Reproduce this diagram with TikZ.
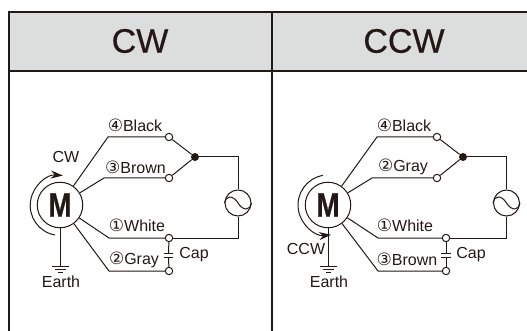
\documentclass[tikz,border=0pt]{standalone}
\usepackage{fontspec}
\setmainfont{Liberation Sans}
\newfontfamily\circfont{DejaVu Sans}
\newfontfamily\heavyfont[FakeBold=0.5]{Liberation Sans}
\newfontfamily\motorfont[FakeBold=0.6]{Liberation Sans Bold}
\usetikzlibrary{arrows.meta}
\definecolor{ink}{HTML}{231815}
\definecolor{head}{HTML}{DCDDDD}
\newcommand{\circnum}[1]{{\circfont\fontsize{17}{17}\selectfont #1}}
\tikzset{
  wire/.style={draw=ink,line width=1pt,line join=miter},
  rule/.style={draw=ink,line width=2pt},
  term/.style={circle,draw=ink,fill=white,line width=1pt,minimum size=7.4pt,inner sep=0pt},
  junction/.style={circle,fill=ink,minimum size=8pt,inner sep=0pt},
  motor/.style={circle,draw=ink,fill=white,line width=1pt,minimum size=45.5pt,inner sep=0pt,font=\motorfont\fontsize{34}{34}\selectfont,text=ink},
  source/.style={circle,draw=ink,fill=white,line width=1pt,minimum size=26pt,inner sep=0pt},
  lab/.style={text=ink,font=\fontsize{16}{16}\selectfont,inner sep=0pt},
  title/.style={text=ink,font=\heavyfont\fontsize{34}{34}\selectfont,inner sep=0pt},
  plate/.style={draw=ink,line width=1pt},
}
\begin{document}
\begin{tikzpicture}[x=1pt,y=-1pt]
\useasboundingbox (0,0) rectangle (527,331);
\fill[head] (8.7,12.5) rectangle (527,71.5);
\draw[rule] (527,12.5) -- (8.7,12.5) -- (8.7,331);
\draw[rule] (8.7,71.5) -- (527,71.5);
\draw[rule] (272,12.5) -- (272,331);
\node[title] (tcw) at (140,41) {CW};
\node[title] (tccw) at (404,41) {CCW};
% ---------- CW
\node[motor] (m1) at (60,205) {\scalebox{0.82}[1]{M}};
\node[term] (a1) at (169,137) {};
\node[term] (b1) at (169,178) {};
\node[term] (c1) at (169,238) {};
\node[term] (d1) at (169,271) {};
\node[junction] (j1) at (195,157) {};
\node[source] (s1) at (238,203) {};
\coordinate (p1) at (108,137);
\coordinate (q1) at (104,178);
\coordinate (r1) at (109,238);
\coordinate (t1) at (109,271);
\coordinate (u1) at (238,157);
\coordinate (v1) at (238,238);
\coordinate (g1) at (60,266);
\coordinate (x1) at (168.5,253.5);
\coordinate (y1) at (168.5,257.5);
\draw[wire] (m1) -- (p1) -- (a1);
\draw[wire] (m1) -- (q1) -- (b1);
\draw[wire] (m1) -- (r1) -- (c1);
\draw[wire] (m1) -- (t1) -- (d1);
\draw[wire] (a1) -- (j1);
\draw[wire] (b1) -- (j1);
\draw[wire] (j1) -- (u1) -- (s1);
\draw[wire] (s1) -- (v1) -- (c1);
\draw[wire] (m1) -- (g1);
\draw[wire] (c1) -- (x1);
\draw[wire] (d1) -- (y1);
\draw[plate] (163.5,253.5) -- (173,253.5);
\draw[plate] (163.5,257.5) -- (173,257.5);
\draw[plate] (52,266) -- (69,266);
\draw[plate] (55,269.3) -- (66,269.3);
\draw[plate] (58,272.5) -- (63,272.5);
\draw[wire,-{Stealth[length=12pt,width=8pt]}] (55,235) arc[start angle=260,end angle=85,x radius=30,y radius=-30];
\draw[wire] (s1.west) .. controls +(1.5,-8) and +(-5,-8) .. (s1.center) .. controls +(5,8) and +(-1.5,8) .. (s1.east);
\node[lab] (l1) at (135,125) {\circnum{④}Black};
\node[lab] (l2) at (135.5,167) {\circnum{③}Brown};
\node[lab] (l3) at (137,225.5) {\circnum{①}White};
\node[lab] (l4) at (134,259.5) {\circnum{②}Gray};
\node[lab] (cap1) at (194,255) {Cap};
\node[lab] (cwl) at (66,157) {CW};
\node[lab] (e1) at (61,282) {Earth};
% ---------- CCW
\node[motor] (m2) at (328,205) {\scalebox{0.82}[1]{M}};
\node[term] (a2) at (437,137) {};
\node[term] (b2) at (437,178) {};
\node[term] (c2) at (446,238) {};
\node[term] (d2) at (446,271) {};
\node[junction] (j2) at (463,157) {};
\node[source] (s2) at (506.5,203) {};
\coordinate (p2) at (377,137);
\coordinate (q2) at (372,178);
\coordinate (r2) at (378,238);
\coordinate (t2) at (378,271);
\coordinate (u2) at (506.5,157);
\coordinate (v2) at (506.5,238);
\coordinate (g2) at (328,266);
\coordinate (x2) at (446,253.5);
\coordinate (y2) at (446,257.5);
\draw[wire] (m2) -- (p2) -- (a2);
\draw[wire] (m2) -- (q2) -- (b2);
\draw[wire] (m2) -- (r2) -- (c2);
\draw[wire] (m2) -- (t2) -- (d2);
\draw[wire] (a2) -- (j2);
\draw[wire] (b2) -- (j2);
\draw[wire] (j2) -- (u2) -- (s2);
\draw[wire] (s2) -- (v2) -- (c2);
\draw[wire] (m2) -- (g2);
\draw[wire] (c2) -- (x2);
\draw[wire] (d2) -- (y2);
\draw[plate] (441,253.5) -- (451,253.5);
\draw[plate] (441,257.5) -- (451,257.5);
\draw[plate] (320,266) -- (337,266);
\draw[plate] (323,269.3) -- (334,269.3);
\draw[plate] (326,272.5) -- (331,272.5);
\draw[wire,-{Stealth[length=12pt,width=8pt]}] (323,175.4) arc[start angle=99.6,end angle=276,x radius=30,y radius=-30];
\draw[wire] (s2.west) .. controls +(1.5,-8) and +(-5,-8) .. (s2.center) .. controls +(5,8) and +(-1.5,8) .. (s2.east);
\node[lab] (l5) at (404,125) {\circnum{④}Black};
\node[lab] (l6) at (403,167) {\circnum{②}Gray};
\node[lab] (l7) at (405,225.5) {\circnum{①}White};
\node[lab] (l8) at (407,259.5) {\circnum{③}Brown};
\node[lab] (cap2) at (471,255) {Cap};
\node[lab] (ccwl) at (306,249) {CCW};
\node[lab] (e2) at (329,282) {Earth};
\end{tikzpicture}
\end{document}
